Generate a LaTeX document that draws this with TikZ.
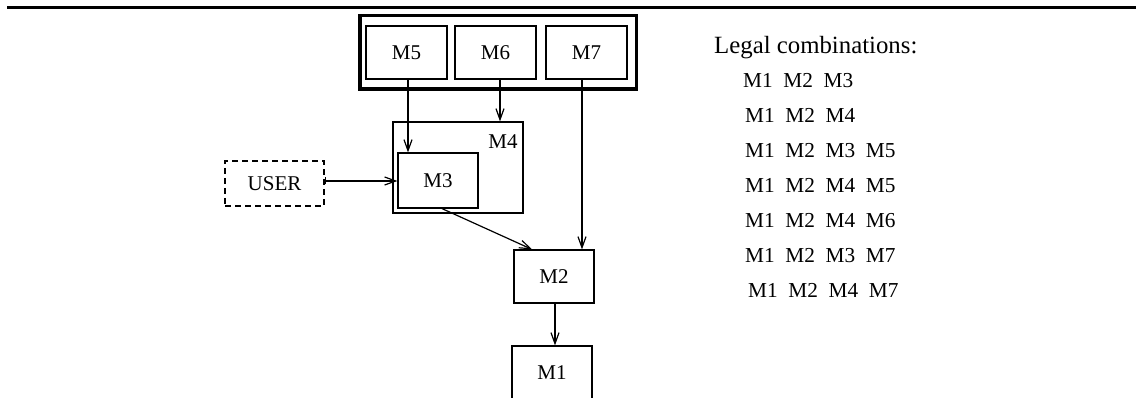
\documentclass[tikz,border=0pt]{standalone}
\usepackage{fontspec}
\setmainfont{Liberation Serif}
\usetikzlibrary{arrows.meta}
\begin{document}
\begin{tikzpicture}[x=1pt,y=-1pt,
  box/.style={draw,line width=1.2pt,inner sep=0pt,font=\fontsize{21}{24}\selectfont},
  link/.style={line width=1.2pt,-{Straight Barb[length=11pt,width=8pt,line width=1.2pt]}},
  item/.style={anchor=base west,inner sep=0pt,font=\fontsize{21.3}{24}\selectfont}]
\useasboundingbox (0,0) rectangle (1136,398);
% header rule
\coordinate (ruleL) at (7,8);
\coordinate (ruleR) at (1136,8);
\draw[line width=3pt] (ruleL) -- (ruleR);
% group holding M5, M6, M7
\node[draw,line width=3.5pt,minimum width=276.5pt,minimum height=73.5pt,inner sep=0pt] (grp) at (498.25,52.25) {};
\node[box,minimum width=81pt,minimum height=53pt] (M5) at (406.5,52.5) {M5};
\node[box,minimum width=81pt,minimum height=53pt] (M6) at (495.5,52.5) {M6};
\node[box,minimum width=81pt,minimum height=53pt] (M7) at (586.5,52.5) {M7};
% M4 containing M3
\node[box,minimum width=130pt,minimum height=91pt] (M4) at (458,167.5) {};
\node[inner sep=0pt,font=\fontsize{21}{24}\selectfont] (M4lbl) at (503,142) {M4};
\node[box,minimum width=80pt,minimum height=55pt] (M3) at (438,180.5) {M3};
% user
\node[box,dash pattern=on 6pt off 4pt,minimum width=99pt,minimum height=45pt] (USER) at (274.5,183.5) {USER};
% M2, M1
\node[box,minimum width=80pt,minimum height=53pt] (M2) at (554,276.5) {M2};
\node[box,minimum width=80pt,minimum height=53pt] (M1) at (552,372.5) {M1};
% connectors
\draw[link] ([xshift=1.5pt]M5.south) -- ([xshift=1.5pt]M5.south |- M3.north);
\draw[link] ([xshift=4.5pt]M6.south) -- ([xshift=4.5pt]M6.south |- M4.north);
\draw[link] ([xshift=-4.5pt]M7.south) -- ([xshift=-4.5pt]M7.south |- M2.north);
\draw[link,{Bar[width=7pt,line width=1.2pt]}-{Straight Barb[length=11pt,width=8pt,line width=1.2pt]}]
  ([yshift=2.5pt]USER.east) -- ([yshift=2.5pt]USER.east -| M3.west);
\draw[link] ([xshift=4pt]M3.south) -- ([xshift=-22pt]M2.north);
\draw[link] ([xshift=1pt]M2.south) -- ([xshift=1pt]M2.south |- M1.north);
% list of legal combinations
\node[anchor=base west,inner sep=0pt,font=\fontsize{24.8}{28}\selectfont] (title) at (714,53.3) {Legal combinations:};
\node[item] (c1) at (743,87.3) {M1\ \ M2\ \ M3};
\node[item] (c2) at (745,122.4) {M1\ \ M2\ \ M4};
\node[item] (c3) at (745,157.5) {M1\ \ M2\ \ M3\ \ M5};
\node[item] (c4) at (745,192.6) {M1\ \ M2\ \ M4\ \ M5};
\node[item] (c5) at (745,227.8) {M1\ \ M2\ \ M4\ \ M6};
\node[item] (c6) at (745,262.9) {M1\ \ M2\ \ M3\ \ M7};
\node[item] (c7) at (748,298) {M1\ \ M2\ \ M4\ \ M7};
\end{tikzpicture}
\end{document}
